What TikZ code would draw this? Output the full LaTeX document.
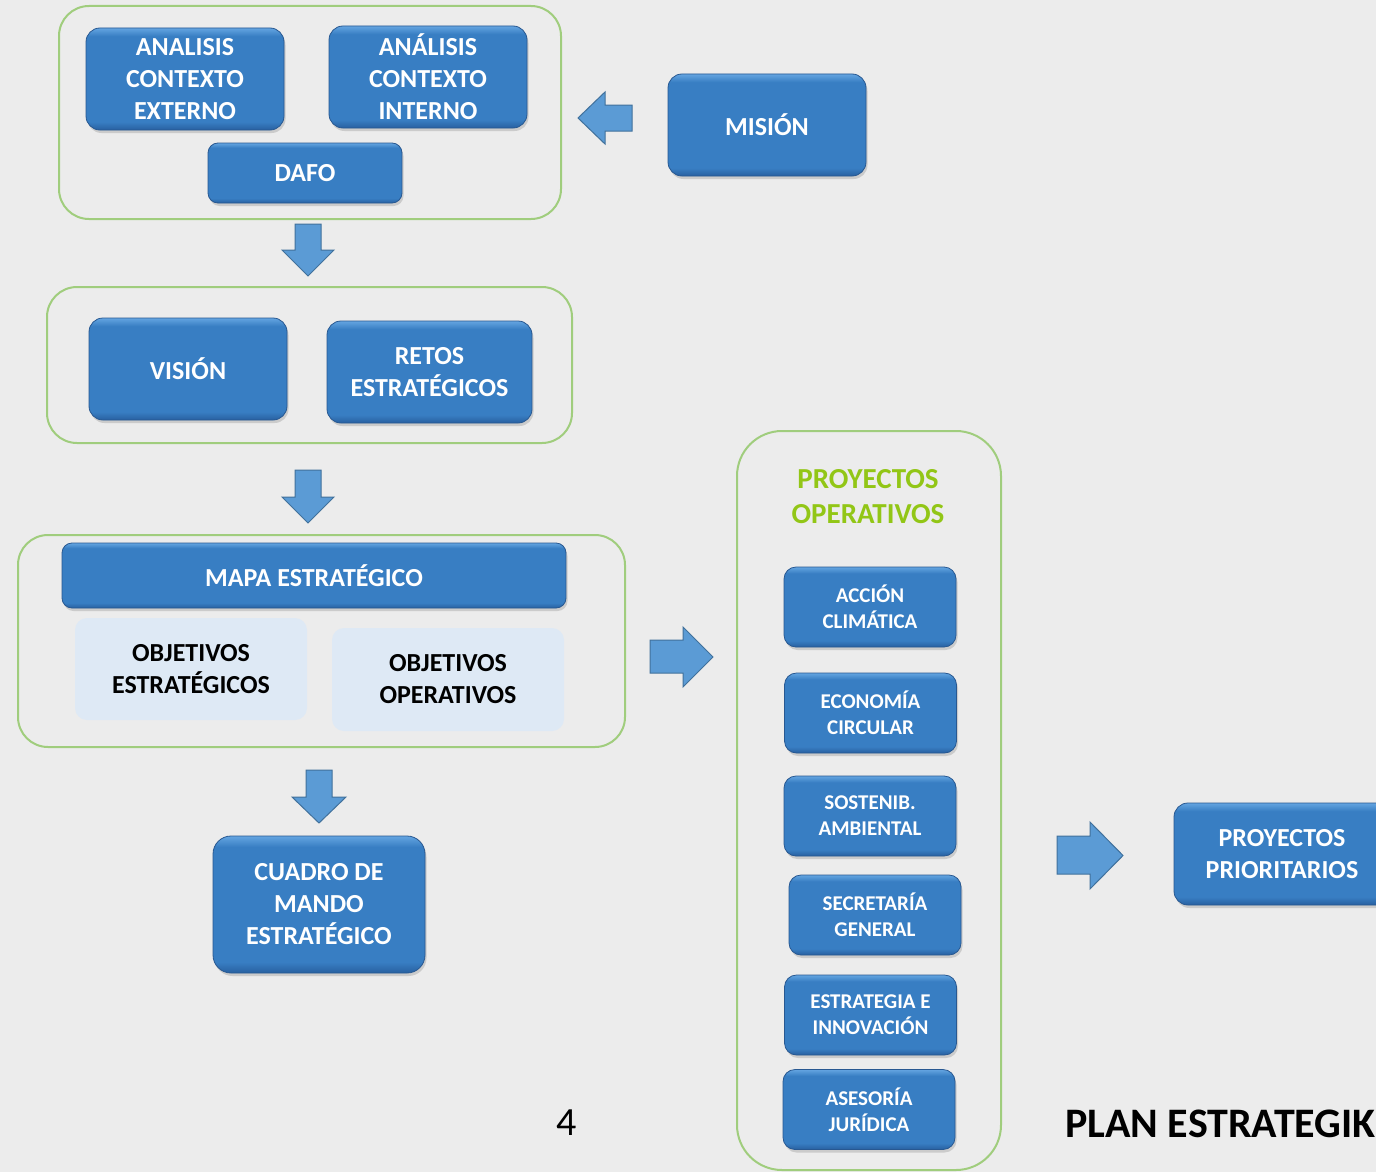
\documentclass[tikz,border=0pt]{standalone}
\usepackage{fontspec}
\setmainfont{Carlito}
\usetikzlibrary{shadows}
\definecolor{bg}{RGB}{236,236,236}
\definecolor{boxtop}{RGB}{100,165,225}
\definecolor{boxmid}{RGB}{56,126,195}
\definecolor{boxbot}{RGB}{40,96,160}
\definecolor{boxline}{RGB}{40,88,145}
\definecolor{grp}{RGB}{160,205,125}
\definecolor{lime}{RGB}{146,198,22}
\definecolor{lightbox}{RGB}{222,233,245}
\definecolor{arrfill}{RGB}{91,155,213}
\definecolor{arrline}{RGB}{65,113,156}
\pgfdeclareverticalshading{bevel}{100bp}{color(0bp)=(boxbot); color(25bp)=(boxbot); color(29bp)=(boxmid); color(71bp)=(boxmid); color(75bp)=(boxtop); color(100bp)=(boxtop)}
\tikzset{
 bluebox/.style={rounded corners=14pt, shading=bevel,
   draw=boxline, line width=0.8pt, text=white, font=\bfseries\fontsize{26}{32}\selectfont,
   align=center, inner sep=0pt,
   drop shadow={opacity=0.3, shadow xshift=1.5pt, shadow yshift=-3pt}},
 smallbox/.style={bluebox, rounded corners=12pt, font=\bfseries\fontsize{21}{26}\selectfont, minimum width=172pt, minimum height=80pt},
 grpbox/.style={draw=grp, line width=2pt, rounded corners=30pt, inner sep=0pt},
 lbox/.style={rounded corners=12pt, fill=lightbox, font=\bfseries\fontsize{26}{32}\selectfont,
   align=center, text=black, inner sep=0pt},
 blockarr/.style={fill=arrfill, draw=arrline, line width=1pt, line join=miter}
}
\begin{document}
\begin{tikzpicture}[x=1pt,y=-1pt]
\useasboundingbox (0,0) rectangle (1376,1172);
\clip (0,0) rectangle (1376,1172);
\fill[bg] (0,0) rectangle (1376,1172);

% group frames
\node[grpbox, minimum width=502pt, minimum height=213pt] (g1) at (310,112.5) {};
\node[grpbox, minimum width=525pt, minimum height=156pt] (g2) at (309.5,365) {};
\node[grpbox, minimum width=607pt, minimum height=212pt] (g3) at (321.5,641) {};
\node[grpbox, rounded corners=45pt, minimum width=264pt, minimum height=739pt] (g4) at (869,800.5) {};

% group 1
\node[bluebox, minimum width=198pt, minimum height=102pt] (ace) at (185,79) {ANALISIS\\CONTEXTO\\EXTERNO};
\node[bluebox, minimum width=198pt, minimum height=102pt] (aci) at (428,77) {ANÁLISIS\\CONTEXTO\\INTERNO};
\node[bluebox, rounded corners=10pt, minimum width=194pt, minimum height=60pt] (dafo) at (305,173) {DAFO};
\node[bluebox, minimum width=198pt, minimum height=102pt] (mision) at (767,125) {MISIÓN};

% group 2
\node[bluebox, minimum width=198pt, minimum height=102pt] (vision) at (188,369) {VISIÓN};
\node[bluebox, minimum width=205pt, minimum height=102pt] (retos) at (429.5,372) {RETOS\\ESTRATÉGICOS};

% group 3
\node[bluebox, rounded corners=10pt, minimum width=504pt, minimum height=65pt] (mapa) at (314,575.5) {MAPA ESTRATÉGICO};
\node[lbox, minimum width=232pt, minimum height=102pt] (oe) at (191,669) {OBJETIVOS\\ESTRATÉGICOS};
\node[lbox, minimum width=232pt, minimum height=103pt] (oo) at (448,679.5) {OBJETIVOS\\OPERATIVOS};

% cuadro
\node[bluebox, rounded corners=18pt, minimum width=212pt, minimum height=137pt] (cuadro) at (319,904.5) {CUADRO DE\\MANDO\\ESTRATÉGICO};

% group 4
\node[text=lime, font=\bfseries\fontsize{29}{35}\selectfont, align=center] (pot) at (868,497) {PROYECTOS\\OPERATIVOS};
\node[smallbox] (acc) at (870,607) {ACCIÓN\\CLIMÁTICA};
\node[smallbox] (eco) at (870.5,713) {ECONOMÍA\\CIRCULAR};
\node[smallbox] (sos) at (870,816) {SOSTENIB.\\AMBIENTAL};
\node[smallbox] (sec) at (875,915) {SECRETARÍA\\GENERAL};
\node[smallbox] (est) at (870.5,1015) {ESTRATEGIA E\\INNOVACIÓN};
\node[smallbox] (ase) at (869,1109.5) {ASESORÍA\\JURÍDICA};

% prioritarios
\node[bluebox, minimum width=216pt, minimum height=102pt] (prior) at (1282,854) {PROYECTOS\\PRIORITARIOS};

% block arrows
\path[blockarr] (632,105) -- (605,105) -- (605,92) -- (578,118) -- (605,144) -- (605,131) -- (632,131) -- cycle;
\path[blockarr] (295,224) -- (321,224) -- (321,250) -- (334,250) -- (308,276) -- (282,250) -- (295,250) -- cycle;
\path[blockarr] (295,470) -- (321,470) -- (321,497) -- (334,497) -- (308,523) -- (282,497) -- (295,497) -- cycle;
\path[blockarr] (306,770) -- (332,770) -- (332,797) -- (346,797) -- (319,823) -- (292,797) -- (306,797) -- cycle;
\path[blockarr] (650,640) -- (683,640) -- (683,627) -- (713,657) -- (683,687) -- (683,673) -- (650,673) -- cycle;
\path[blockarr] (1057,836) -- (1090,836) -- (1090,822) -- (1123,855.5) -- (1090,889) -- (1090,874) -- (1057,874) -- cycle;

% footer
\node[font=\fontsize{40}{48}\selectfont, inner sep=0pt] (num) at (567,1123) {4};
\node[font=\bfseries\fontsize{42}{50}\selectfont, anchor=base west, inner sep=0pt] (plan) at (1065,1137) {PLAN ESTRATEGIK};
\end{tikzpicture}
\end{document}
